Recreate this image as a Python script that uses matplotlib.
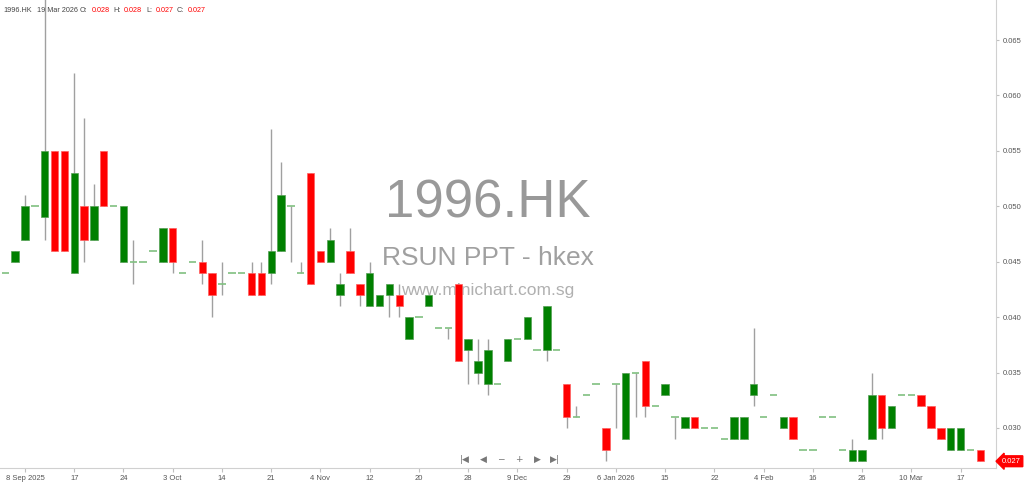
import numpy as np
import matplotlib
matplotlib.use('Agg')
import matplotlib.pyplot as plt
import matplotlib.transforms as mtransforms

plt.rcParams['font.family'] = ['Liberation Sans', 'DejaVu Sans']

# OHLC per trading session, oldest first
opens = [0.044, 0.045, 0.047, 0.050, 0.049, 0.055, 0.055, 0.044, 0.050, 0.047,
         0.055, 0.050, 0.045, 0.045, 0.045, 0.046, 0.045, 0.048, 0.044, 0.045,
         0.045, 0.044, 0.043, 0.044, 0.044, 0.044, 0.044, 0.044, 0.046, 0.050,
         0.044, 0.053, 0.046, 0.045, 0.042, 0.046, 0.043, 0.041, 0.041, 0.042,
         0.042, 0.038, 0.040, 0.041, 0.039, 0.039, 0.043, 0.037, 0.035, 0.034,
         0.034, 0.036, 0.038, 0.038, 0.037, 0.037, 0.037, 0.034, 0.031, 0.033,
         0.034, 0.030, 0.034, 0.029, 0.035, 0.036, 0.032, 0.033, 0.031, 0.030,
         0.031, 0.030, 0.030, 0.029, 0.029, 0.029, 0.033, 0.031, 0.033, 0.030,
         0.031, 0.028, 0.028, 0.031, 0.031, 0.028, 0.027, 0.027, 0.029, 0.033,
         0.030, 0.033, 0.033, 0.033, 0.032, 0.030, 0.028, 0.028, 0.028, 0.028]
highs = [0.044, 0.046, 0.051, 0.050, 0.069, 0.055, 0.055, 0.062, 0.058, 0.052,
         0.055, 0.050, 0.050, 0.047, 0.045, 0.046, 0.048, 0.048, 0.044, 0.045,
         0.047, 0.044, 0.045, 0.044, 0.044, 0.045, 0.045, 0.057, 0.054, 0.050,
         0.045, 0.053, 0.046, 0.048, 0.044, 0.048, 0.043, 0.045, 0.042, 0.043,
         0.043, 0.040, 0.040, 0.042, 0.039, 0.039, 0.043, 0.038, 0.038, 0.038,
         0.034, 0.038, 0.038, 0.040, 0.037, 0.041, 0.037, 0.034, 0.032, 0.033,
         0.034, 0.030, 0.034, 0.035, 0.035, 0.036, 0.032, 0.034, 0.031, 0.031,
         0.031, 0.030, 0.030, 0.029, 0.031, 0.031, 0.039, 0.031, 0.033, 0.031,
         0.031, 0.028, 0.028, 0.031, 0.031, 0.028, 0.029, 0.028, 0.035, 0.033,
         0.032, 0.033, 0.033, 0.033, 0.032, 0.030, 0.030, 0.030, 0.028, 0.028]
lows = [0.044, 0.045, 0.047, 0.050, 0.047, 0.046, 0.046, 0.044, 0.045, 0.047,
        0.050, 0.050, 0.045, 0.043, 0.045, 0.046, 0.045, 0.044, 0.044, 0.045,
        0.043, 0.040, 0.042, 0.044, 0.044, 0.042, 0.042, 0.043, 0.046, 0.045,
        0.044, 0.043, 0.045, 0.045, 0.041, 0.044, 0.041, 0.041, 0.041, 0.040,
        0.040, 0.038, 0.040, 0.041, 0.039, 0.038, 0.036, 0.034, 0.034, 0.033,
        0.034, 0.036, 0.038, 0.038, 0.037, 0.036, 0.037, 0.030, 0.031, 0.033,
        0.034, 0.027, 0.030, 0.029, 0.031, 0.031, 0.032, 0.033, 0.029, 0.030,
        0.030, 0.030, 0.030, 0.029, 0.029, 0.029, 0.032, 0.031, 0.033, 0.030,
        0.029, 0.028, 0.028, 0.031, 0.031, 0.028, 0.027, 0.027, 0.029, 0.029,
        0.030, 0.033, 0.033, 0.032, 0.030, 0.029, 0.028, 0.028, 0.028, 0.027]
closes = [0.044, 0.046, 0.050, 0.050, 0.055, 0.046, 0.046, 0.053, 0.047, 0.050,
          0.050, 0.050, 0.050, 0.045, 0.045, 0.046, 0.048, 0.045, 0.044, 0.045,
          0.044, 0.042, 0.043, 0.044, 0.044, 0.042, 0.042, 0.046, 0.051, 0.050,
          0.044, 0.043, 0.045, 0.047, 0.043, 0.044, 0.042, 0.044, 0.042, 0.043,
          0.041, 0.040, 0.040, 0.042, 0.039, 0.039, 0.036, 0.038, 0.036, 0.037,
          0.034, 0.038, 0.038, 0.040, 0.037, 0.041, 0.037, 0.031, 0.031, 0.033,
          0.034, 0.028, 0.034, 0.035, 0.035, 0.032, 0.032, 0.034, 0.031, 0.031,
          0.030, 0.030, 0.030, 0.029, 0.031, 0.031, 0.034, 0.031, 0.033, 0.031,
          0.029, 0.028, 0.028, 0.031, 0.031, 0.028, 0.028, 0.028, 0.033, 0.030,
          0.032, 0.033, 0.033, 0.032, 0.030, 0.029, 0.030, 0.030, 0.028, 0.027]

date_labels = ['8 Sep 2025', '17', '24', '3 Oct', '14', '21', '4 Nov', '12', '20', '28',
               '9 Dec', '29', '6 Jan 2026', '15', '22', '4 Feb', '16', '26', '10 Mar', '17']
y_ticks = [0.030, 0.035, 0.040, 0.045, 0.050, 0.055, 0.060, 0.065]

o = np.array(opens)
h = np.array(highs)
l = np.array(lows)
c = np.array(closes)
x = np.arange(len(o))

fig = plt.figure(figsize=(10.24, 4.84), dpi=100)
ax = fig.add_axes([0, 16 / 484, 996 / 1024, 468 / 484])

green = '#008000'
red = '#ff0000'
flat = '#80c080'
wick = '#a0a0a0'
w = 0.75

# wicks
ax.vlines(x, l, h, color=wick, lw=1, zorder=1)

up = c > o
down = c < o
same = c == o
ax.bar(x[up], (c - o)[up], bottom=o[up], width=w, color=green,
       edgecolor='#55a055', lw=0.5, zorder=2)
ax.bar(x[down], (o - c)[down], bottom=c[down], width=w, color=red,
       edgecolor='#ff6060', lw=0.5, zorder=2)
ax.hlines(c[same], x[same] - w / 2, x[same] + w / 2, color=flat, lw=1.2, zorder=2)

ax.set_xlim(-0.54, 100.6)
ax.set_ylim(0.02639, 0.06861)

# axes styling
for s in ['top', 'left']:
    ax.spines[s].set_visible(False)
ax.spines['right'].set_color('#d0d0d0')
ax.spines['bottom'].set_color('#d0d0d0')
ax.yaxis.tick_right()
ax.set_yticks(y_ticks)
ax.set_yticklabels([f'{v:.3f}' for v in y_ticks])
ax.tick_params(axis='y', labelsize=5.5, colors='#555555', length=2, pad=3,
               color='#c0c0c0')
ax.set_xticks(range(2, len(o), 5))
ax.set_xticklabels(date_labels)
ax.tick_params(axis='x', labelsize=5.5, colors='#555555', length=3, pad=2,
               color='#c0c0c0')

# watermark
ax.text(0.49, 0.566, '1996.HK', transform=ax.transAxes, ha='center', va='center',
        fontsize=38, color='#999999', zorder=0)
ax.text(0.49, 0.448, 'RSUN PPT - hkex', transform=ax.transAxes, ha='center',
        va='center', fontsize=19, color='#a0a0a0', zorder=0)
ax.text(0.49, 0.38, 'www.minichart.com.sg', transform=ax.transAxes, ha='center',
        va='center', fontsize=12.5, color='#b0b0b0', zorder=0)

# navigation controls
nav = ['|◀', '◀', '−', '+', '▶', '▶|']
for k, sym in enumerate(nav):
    fig.text((465 + 18 * k) / 1024, 1 - 459 / 484, sym, ha='center', va='center',
             fontsize=6.5, color='#777777', family=['DejaVu Sans'])

# header line
hdr_y = 1 - 10 / 484
fig.text(3 / 1024, hdr_y, '1996.HK', fontsize=5.2, color='#444444', va='center')
fig.text(37 / 1024, hdr_y, '19 Mar 2026', fontsize=5.2, color='#444444', va='center')
parts = [('O:', '0.028'), ('H:', '0.028'), ('L:', '0.027'), ('C:', '0.027')]
lab_x = [80, 113, 146, 177]
val_x = [92, 124, 156, 188]
for (lab, val), lx, vx in zip(parts, lab_x, val_x):
    fig.text(lx / 1024, hdr_y, lab, fontsize=5.2, color='#444444', va='center')
    fig.text(vx / 1024, hdr_y, val, fontsize=5.2, color=red, va='center')

# last price tag
trans = mtransforms.blended_transform_factory(ax.transAxes, ax.transData)
ax.text(1.006, c[-1], f'{c[-1]:.3f}', transform=trans, ha='left', va='center',
        fontsize=5.5, color='white', clip_on=False,
        bbox=dict(boxstyle='larrow,pad=0.25', fc=red, ec=red))

fig.savefig('out.png', dpi=100)
